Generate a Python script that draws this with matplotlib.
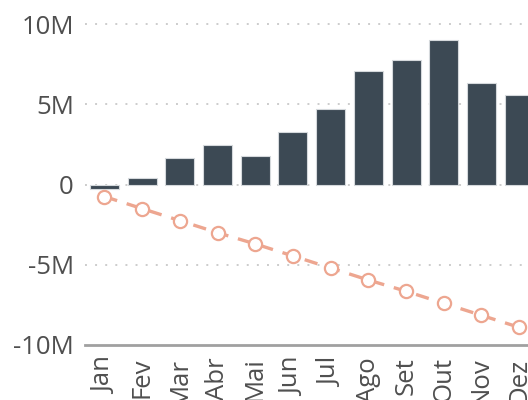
import matplotlib
matplotlib.use("Agg")
import matplotlib.pyplot as plt
from matplotlib.ticker import FuncFormatter, FixedLocator

months = ["Jan", "Fev", "Mar", "Abr", "Mai", "Jun", "Jul", "Ago", "Set", "Out", "Nov", "Dez"]
monthly = [-0.25e6, 0.4e6, 1.65e6, 2.45e6, 1.75e6, 3.25e6, 4.7e6, 7.05e6, 7.75e6, 9.0e6, 6.35e6, 5.6e6]
trend = [-0.75e6, -1.5e6, -2.25e6, -3.0e6, -3.7e6, -4.45e6, -5.2e6, -5.95e6, -6.65e6, -7.4e6, -8.15e6, -8.9e6]
y_ticks = [-10e6, -5e6, 0, 5e6, 10e6]

plt.rcParams["font.family"] = ["Open Sans", "DejaVu Sans"]

fig = plt.figure(figsize=(5.28, 4.0), dpi=100)
ax = fig.add_axes([85 / 528, 55 / 400, 1 - 85 / 528, 1 - 55 / 400])

x = list(range(len(months)))
ax.bar(x, monthly, width=0.77, color="#3c4954", edgecolor="#d5d9dc",
       linewidth=0.8, zorder=3)
ax.plot(x, trend, color="#eda690", linewidth=2.4, dashes=(4, 3),
        marker="o", markersize=9.5, markerfacecolor="white",
        markeredgecolor="#eda690", markeredgewidth=1.6, zorder=4)

ax.set_xlim(-0.515, 11.235)
ax.set_ylim(-10e6, 11.5e6)

ax.yaxis.set_major_locator(FixedLocator(y_ticks))

def fmt(v, _):
    if v == 0:
        return "0"
    return ("-" if v < 0 else "") + f"{abs(v) / 1e6:g}M"

ax.yaxis.set_major_formatter(FuncFormatter(fmt))
ax.set_xticks(x)
ax.set_xticklabels(months, rotation=90)

ax.tick_params(axis="both", length=0, labelsize=18.5, labelcolor="#4f4f4f")
ax.tick_params(axis="y", pad=8)
ax.tick_params(axis="x", pad=9)

for t in y_ticks[1:]:
    ax.axhline(t, color="#cccccc", linewidth=1.4, linestyle=(0, (1, 4.2)), zorder=1)

for side in ["top", "right", "left"]:
    ax.spines[side].set_visible(False)
ax.spines["bottom"].set_color("#a0a0a0")
ax.spines["bottom"].set_linewidth(2)

fig.savefig("out.png", dpi=100)
